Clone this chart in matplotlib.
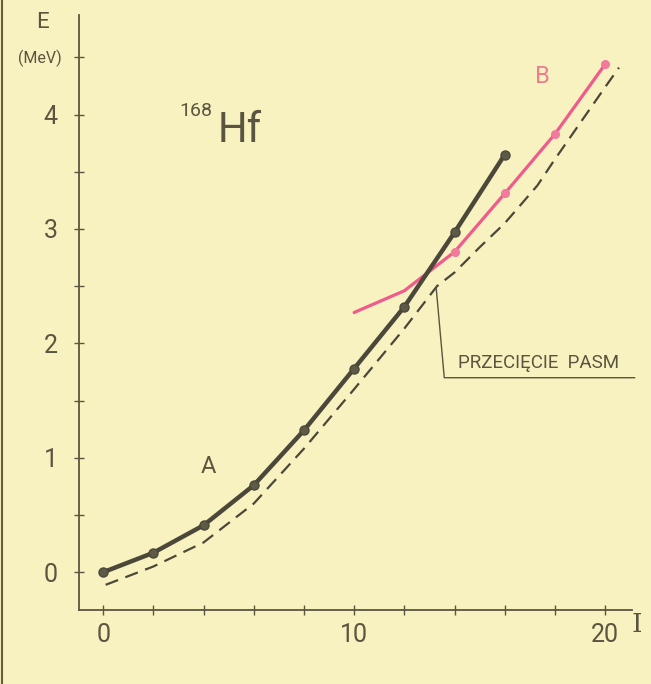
import numpy as np
import matplotlib.pyplot as plt
from matplotlib.lines import Line2D

plt.rcParams["font.family"] = ["Roboto", "DejaVu Sans"]

# band A (ground band)
spin_a = [0, 2, 4, 6, 8, 10, 12, 14, 16]
energy_a = [0.0, 0.17, 0.41, 0.76, 1.24, 1.78, 2.32, 2.97, 3.65]

# band B (crossing band); markers only from I = 14 on
spin_b = [10, 12, 13, 14, 16, 18, 20]
energy_b = [2.27, 2.46, 2.63, 2.80, 3.31, 3.83, 4.44]
marked_b = [3, 4, 5, 6]

# dashed reference curve
spin_d = [0.1, 2, 4, 6, 8, 10, 12, 13.3, 14, 15, 16, 17.3, 18, 20, 20.55]
energy_d = [-0.11, 0.05, 0.26, 0.60, 1.08, 1.60, 2.13, 2.50, 2.62, 2.84, 3.05, 3.38, 3.61, 4.24, 4.41]

x_ticks = np.arange(0, 21, 2)
x_labels = ["0", "", "", "", "", "10", "", "", "", "", "20"]
y_ticks = np.arange(0, 4.6, 0.5)
y_labels = ["0", "", "1", "", "2", "", "3", "", "4", ""]

bg = "#f8f2c0"
ink = "#5a5540"
dark = "#4b4839"
pink = "#ef5b8c"

fig = plt.figure(figsize=(6.51, 6.84), dpi=100, facecolor=bg)
ax = fig.add_axes([0.1214, 0.1082, 0.8487, 0.8699])
ax.set_facecolor(bg)

ax.plot(spin_d, energy_d, color=dark, lw=1.6, dashes=(6, 3.5))
ax.plot(spin_b, energy_b, color=pink, lw=2.3, marker="o", ms=5.5,
        markevery=marked_b, markerfacecolor="#f27a9c", markeredgecolor="#f27a9c",
        solid_capstyle="round")
ax.plot(spin_a, energy_a, color=dark, lw=3.2, marker="o", ms=6.5,
        markerfacecolor="#5e5a48", markeredgecolor=dark, solid_capstyle="round")

# annotation of the band crossing
ax.plot([13.27, 13.59, 21.17], [2.48, 1.70, 1.70], color=ink, lw=1.0, clip_on=False)
ax.text(17.35, 1.75, "PRZECIĘCIE  PASM", color=ink, fontsize=13.5,
        ha="center", va="bottom")

ax.text(4.2, 0.92, "A", color=ink, fontsize=17, ha="center", va="center")
ax.text(17.5, 4.33, "B", color="#ec7f8f", fontsize=17, ha="center", va="center")
ax.text(3.7, 4.03, "168", color=ink, fontsize=14, ha="center", va="center")
ax.text(5.45, 3.86, "Hf", color=ink, fontsize=30, ha="center", va="center")

ax.set_xlim(-0.96, 21.05)
ax.set_ylim(-0.33, 4.87)
ax.set_xticks(x_ticks)
ax.set_xticklabels(x_labels)
ax.set_yticks(y_ticks)
ax.set_yticklabels(y_labels)
ax.tick_params(direction="inout", length=7, width=1.0, color=ink,
               labelcolor=ink, labelsize=18)
ax.tick_params(axis="x", pad=6)
ax.tick_params(axis="y", pad=12)

for side in ["top", "right"]:
    ax.spines[side].set_visible(False)
for side in ["left", "bottom"]:
    ax.spines[side].set_color(ink)
    ax.spines[side].set_linewidth(1.3)

fig.text(42 / 651, 1 - 22 / 684, "E", color=ink, fontsize=16, ha="center", va="center")
fig.text(40 / 651, 1 - 58 / 684, "(MeV)", color=ink, fontsize=11.5, ha="center", va="center")
fig.text(637 / 651, 1 - 624 / 684, "I", color=ink, fontsize=19, ha="center", va="center",
         family="DejaVu Serif")

# frame edge of the scanned page
fig.add_artist(Line2D([0.003, 0.003], [0, 1], color="#6a5a3a", lw=1.5))

fig.savefig("out.png", dpi=100, facecolor=bg)
